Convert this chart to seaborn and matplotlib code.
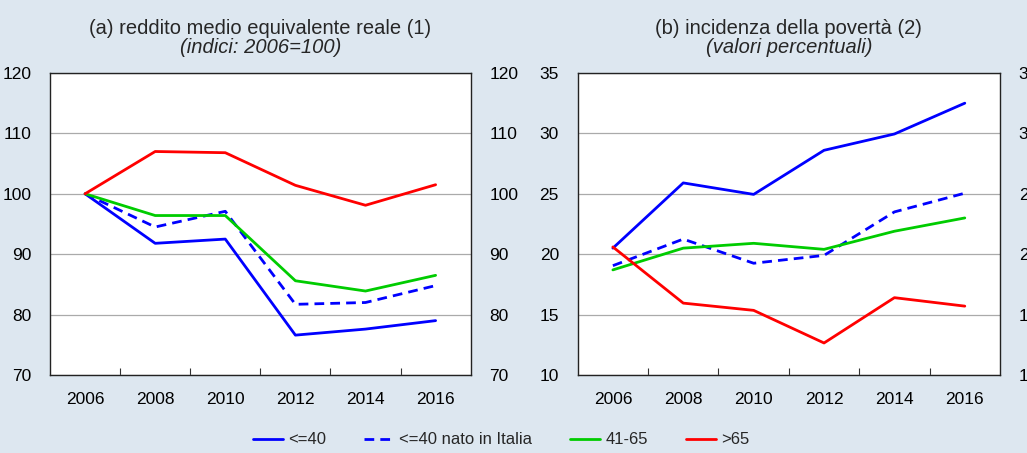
import numpy as np
import pandas as pd
import matplotlib
matplotlib.use("Agg")
import matplotlib.pyplot as plt
from matplotlib.lines import Line2D
import seaborn as sns

# ── Data ──────────────────────────────────────────────────────────────────────
years = ['2006', '2008', '2010', '2012', '2014', '2016']
series = ['<=40', '<=40 nato in Italia', '41-65', '>65']

# (a) reddito medio equivalente reale, indici 2006=100
reddito_u40 = [100, 91.8, 92.5, 76.6, 77.6, 79.0]
reddito_u40_it = [100, 94.5, 97.1, 81.7, 82.0, 84.8]
reddito_41_65 = [100, 96.4, 96.4, 85.6, 83.9, 86.5]
reddito_o65 = [100, 107.0, 106.8, 101.4, 98.1, 101.5]

# (b) incidenza della povertà, valori percentuali
poverta_u40 = [20.5, 25.9, 24.95, 28.6, 29.95, 32.5]
poverta_u40_it = [19.05, 21.25, 19.25, 19.9, 23.5, 25.05]
poverta_41_65 = [18.7, 20.5, 20.9, 20.4, 21.9, 23.0]
poverta_o65 = [20.6, 15.95, 15.35, 12.65, 16.4, 15.7]

styles = {
    '<=40': dict(color='#0000ff', dash=None),
    '<=40 nato in Italia': dict(color='#0000ff', dash=(3.5, 2.2)),
    '41-65': dict(color='#00cc00', dash=None),
    '>65': dict(color='#ff0000', dash=None),
}

# ── Setup ─────────────────────────────────────────────────────────────────────
sns.set_theme(style="white")
plt.rcParams['font.family'] = ['Liberation Sans', 'DejaVu Sans']
fs_tick = 12.5
fs_title = 14.5
fs_leg = 12
bg = '#dde7f0'

fig = plt.figure(figsize=(10.27, 4.53), dpi=100, facecolor=bg)
ax_a = fig.add_axes([0.0487, 0.1722, 0.4096, 0.6667])
ax_b = fig.add_axes([0.5625, 0.1722, 0.4112, 0.6667])


def draw_panel(ax, data, ylim, yticks, title, subtitle):
    x = np.arange(len(years))
    for name, vals in data.items():
        st = styles[name]
        sns.lineplot(x=x, y=vals, ax=ax, color=st['color'], linewidth=2,
                     legend=False)
        if st['dash'] is not None:
            ax.lines[-1].set_dashes(st['dash'])
    ax.set_facecolor('white')
    ax.set_xlim(-0.5, 5.5)
    ax.set_ylim(*ylim)
    ax.set_yticks(yticks)
    ax.set_xticks(x)
    ax.set_xticklabels(years)
    ax.set_xticks(x[:-1] + 0.5, minor=True)
    ax.yaxis.grid(True, color='#aaaaaa', linewidth=0.9)
    ax.set_axisbelow(True)
    ax.tick_params(axis='x', which='major', length=0, pad=12,
                   labelsize=fs_tick, colors='black')
    ax.tick_params(axis='x', which='minor', direction='in', length=5,
                   width=0.8, color='#333333', bottom=True)
    ax.tick_params(axis='y', left=False, right=False, labelleft=True,
                   labelright=True, pad=7.5, labelsize=fs_tick, colors='black')
    for sp in ax.spines.values():
        sp.set_visible(True)
        sp.set_color('#222222')
        sp.set_linewidth(1.0)
    ax.text(0.5, 1.147, title, transform=ax.transAxes, ha='center',
            va='center', fontsize=fs_title)
    ax.text(0.5, 1.084, subtitle, transform=ax.transAxes, ha='center',
            va='center', fontsize=fs_title, style='italic')


draw_panel(ax_a,
           {'<=40': reddito_u40, '<=40 nato in Italia': reddito_u40_it,
            '41-65': reddito_41_65, '>65': reddito_o65},
           (70, 120), [70, 80, 90, 100, 110, 120],
           '(a) reddito medio equivalente reale (1)', '(indici: 2006=100)')
draw_panel(ax_b,
           {'<=40': poverta_u40, '<=40 nato in Italia': poverta_u40_it,
            '41-65': poverta_41_65, '>65': poverta_o65},
           (10, 35), [10, 15, 20, 25, 30, 35],
           '(b) incidenza della povertà (2)', '(valori percentuali)')

# ── Legend ────────────────────────────────────────────────────────────────────
handles = []
for name in series:
    st = styles[name]
    h = Line2D([0], [0], color=st['color'], linewidth=2)
    if st['dash'] is not None:
        h.set_dashes(st['dash'])
    handles.append(h)
fig.legend(handles, series, loc='center', bbox_to_anchor=(0.488, 0.029),
           ncol=4, frameon=False, fontsize=fs_leg, handlelength=1.8,
           handletextpad=0.3, columnspacing=2.3)

plt.savefig('out.png', dpi=100, facecolor=bg)
plt.close()
